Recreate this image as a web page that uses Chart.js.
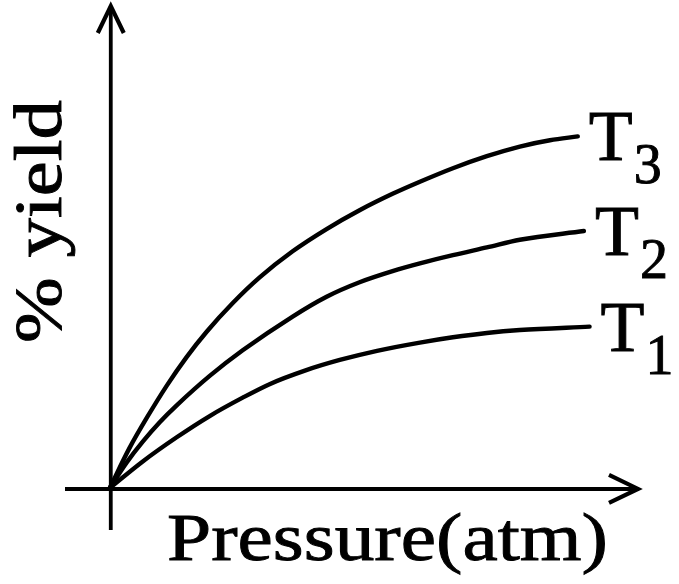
<!DOCTYPE html>
<html>
<head>
<meta charset="utf-8">
<script src="https://cdn.jsdelivr.net/npm/chart.js@4/dist/chart.umd.min.js"></script>
<style>
  html, body { margin: 0; padding: 0; background: #ffffff; }
  #wrap { width: 679px; height: 584px; }
</style>
</head>
<body>
<div id="wrap"><canvas id="c" width="679" height="584"></canvas></div>
<script>
// ---- data (arbitrary units) ----
const seriesNames = ['T3', 'T2', 'T1'];
const pressureT3 = [0, 0.42, 0.79, 1.21, 1.63, 2.06, 2.61, 3.18, 3.88, 4.60, 5.30, 6.00, 6.58, 7.28, 8.00, 8.70, 9.34, 9.93];
const yieldT3    = [0, 8.3, 14.6, 21.2, 27.1, 32.4, 38.3, 43.6, 49.0, 53.6, 57.5, 60.9, 63.4, 66.2, 68.7, 70.7, 72.0, 72.8];
const pressureT2 = [0, 0.36, 0.70, 1.06, 1.42, 2.12, 2.82, 3.88, 4.60, 5.30, 6.00, 6.58, 7.28, 8.00, 8.70, 10.06];
const yieldT2    = [0, 5.3, 9.6, 13.6, 17.1, 23.2, 28.5, 35.5, 39.6, 42.6, 44.9, 46.5, 48.2, 49.8, 51.4, 53.2];
const pressureT1 = [0, 0.70, 1.42, 2.12, 2.82, 3.39, 4.14, 4.88, 5.67, 6.58, 7.28, 8.00, 8.70, 10.18];
const yieldT1    = [0, 5.5, 10.5, 14.9, 18.7, 21.5, 24.3, 26.5, 28.4, 30.1, 31.2, 32.1, 32.7, 33.4];
const xTitle = 'Pressure(atm)';
const yTitle = '% yield';

const toPts = (xs, ys) => xs.map((x, i) => ({ x: x, y: ys[i] }));
const SERIF = '"Liberation Serif", "DejaVu Serif", serif';

const mk = (name, xs, ys) => ({
  label: name,
  data: toPts(xs, ys),
  borderColor: '#000000',
  borderWidth: 4.4,
  pointRadius: 0,
  fill: false,
  cubicInterpolationMode: 'monotone',
  borderCapStyle: 'round',
  borderJoinStyle: 'round'
});

const axesPlugin = {
  id: 'sketchAxes',
  beforeDatasetsDraw(chart) {
    const ctx = chart.ctx, xs = chart.scales.x, ys = chart.scales.y, a = chart.chartArea;
    const x0 = xs.getPixelForValue(0) + 1, y0 = ys.getPixelForValue(0) + 1;
    ctx.save();
    ctx.strokeStyle = '#000';
    ctx.lineWidth = 3.8;
    ctx.lineCap = 'butt';
    ctx.lineJoin = 'miter';
    // y axis
    ctx.beginPath();
    ctx.moveTo(x0, a.bottom);
    ctx.lineTo(x0, a.top + 1);
    ctx.stroke();
    // x axis
    ctx.beginPath();
    ctx.moveTo(a.left, y0);
    ctx.lineTo(a.right - 1, y0);
    ctx.stroke();
    // arrowheads
    ctx.lineWidth = 4.2;
    ctx.beginPath();
    ctx.moveTo(x0 - 13, a.top + 28);
    ctx.lineTo(x0, a.top + 1);
    ctx.lineTo(x0 + 13, a.top + 28);
    ctx.stroke();
    ctx.beginPath();
    ctx.moveTo(a.right - 31, y0 - 14);
    ctx.lineTo(a.right - 2, y0);
    ctx.lineTo(a.right - 31, y0 + 14);
    ctx.stroke();
    ctx.restore();
  },
  afterDraw(chart) {
    const ctx = chart.ctx, xs = chart.scales.x, ys = chart.scales.y;
    ctx.save();
    ctx.fillStyle = '#000';
    ctx.strokeStyle = '#000';
    ctx.lineWidth = 0.9;
    const put = (t, x, y) => { ctx.fillText(t, x, y); ctx.strokeText(t, x, y); };
    // curve-end labels T3, T2, T1
    const ends = [[pressureT3, yieldT3, '3'], [pressureT2, yieldT2, '2'], [pressureT1, yieldT1, '1']];
    ends.forEach(([px, py, sub]) => {
      const n = px.length - 1;
      const ex = xs.getPixelForValue(px[n]);
      const ey = ys.getPixelForValue(py[n]);
      const lx = ex + 11, base = ey + 24;
      ctx.font = '72px ' + SERIF;
      ctx.textAlign = 'left';
      ctx.textBaseline = 'alphabetic';
      put('T', lx, base);
      const tw = ctx.measureText('T').width;
      ctx.font = '56px ' + SERIF;
      put(sub, lx + tw + 1, base + 23);
    });
    // x title
    ctx.font = '68px ' + SERIF;
    ctx.textAlign = 'center';
    ctx.textBaseline = 'alphabetic';
    let w = ctx.measureText(xTitle).width;
    let sx = 441 / w;
    ctx.save();
    ctx.translate(387.5, 560);
    ctx.scale(sx, 1);
    put(xTitle, 0, 0);
    ctx.restore();
    // y title (rotated)
    w = ctx.measureText(yTitle).width;
    sx = 243 / w;
    ctx.save();
    ctx.translate(61, 221.5);
    ctx.rotate(-Math.PI / 2);
    ctx.scale(sx, 1);
    put(yTitle, 0, 0);
    ctx.restore();
    ctx.restore();
  }
};

new Chart(document.getElementById('c'), {
  type: 'line',
  data: {
    datasets: [
      mk(seriesNames[0], pressureT3, yieldT3),
      mk(seriesNames[1], pressureT2, yieldT2),
      mk(seriesNames[2], pressureT1, yieldT1)
    ]
  },
  options: {
    responsive: false,
    animation: false,
    layout: { padding: { left: 65, right: 39, top: 5, bottom: 54 } },
    plugins: { legend: { display: false }, tooltip: { enabled: false } },
    scales: {
      x: { type: 'linear', min: -0.95, max: 11.25, display: false },
      y: { type: 'linear', min: -8.7, max: 100, display: false }
    }
  },
  plugins: [axesPlugin]
});
</script>
</body>
</html>
